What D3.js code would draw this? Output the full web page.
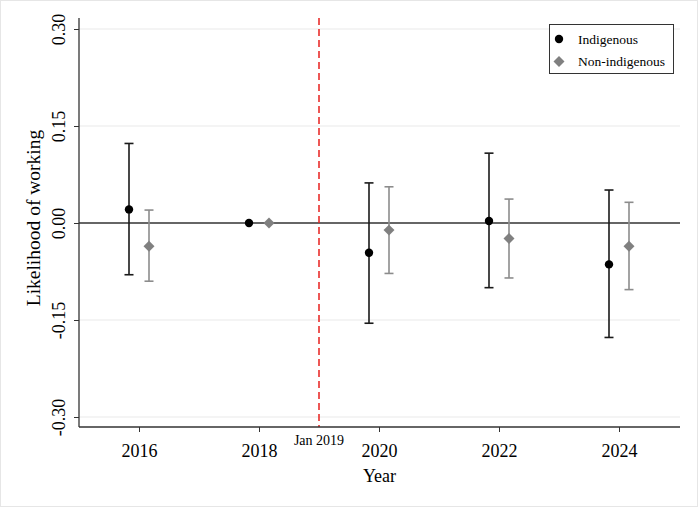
<!DOCTYPE html>
<html><head><meta charset="utf-8">
<script src="https://cdn.jsdelivr.net/npm/d3@7"></script>
<style>body{margin:0;background:#fff}svg{display:block}text{font-family:"Liberation Serif","Times New Roman",serif;fill:#000}</style>
</head><body>
<script>
const years = [2016, 2018, 2020, 2022, 2024];
const indEst = [0.021, 0.0, -0.046, 0.003, -0.064];
const indLo = [-0.080, 0.0, -0.155, -0.100, -0.177];
const indHi = [0.123, 0.0, 0.062, 0.108, 0.051];
const nonEst = [-0.036, 0.0, -0.011, -0.024, -0.036];
const nonLo = [-0.090, 0.0, -0.078, -0.085, -0.103];
const nonHi = [0.020, 0.0, 0.056, 0.037, 0.032];
const yTicks = [-0.30, -0.15, 0.00, 0.15, 0.30];
const eventYear = 2019;
const eventLabel = "Jan 2019";

(function(){
const W = 698, H = 507;
const svg = d3.select("body").append("svg").attr("width", W).attr("height", H)
  .attr("font-family", '"Liberation Serif",serif');
svg.append("rect").attr("x",0.5).attr("y",0.5).attr("width",W-1).attr("height",H-1).attr("fill","#fff").attr("stroke","#e6e6e6");

const pL = 79, pR = 680, pT = 18, pB = 427;
const x = d3.scaleLinear().domain([2016, 2024]).range([139, 619]);
const y = d3.scaleLinear().domain([-0.30, 0.30]).range([417, 29]);

svg.append("g").selectAll("line").data(yTicks.filter(d => d !== 0)).join("line")
  .attr("x1", pL).attr("x2", pR).attr("y1", d => y(d)).attr("y2", d => y(d))
  .attr("stroke", "#eaeaea").attr("stroke-width", 1.2);
svg.append("line").attr("x1", pL).attr("x2", pR).attr("y1", y(0)).attr("y2", y(0))
  .attr("stroke", "#333").attr("stroke-width", 1.3);

svg.append("line").attr("x1", x(eventYear)).attr("x2", x(eventYear)).attr("y1", pT).attr("y2", pB)
  .attr("stroke", "#e8201e").attr("stroke-width", 1.5).attr("stroke-dasharray", "7,4");

const fmt = d => d.toFixed(2);
const yAxis = d3.axisLeft(y).tickValues(yTicks).tickSize(5).tickFormat(fmt);
const gy = svg.append("g").attr("transform", `translate(${pL},0)`).call(yAxis)
  .attr("font-family", '"Liberation Serif",serif');
gy.select(".domain").attr("d", `M0,${pT}V${pB}`).attr("stroke", "#333").attr("stroke-width", 1.3);
gy.selectAll(".tick line").attr("stroke", "#333");
gy.selectAll(".tick text").attr("transform", "rotate(-90)").attr("x", 0).attr("y", -14).attr("dy", 0)
  .attr("text-anchor", "middle").style("font-size", "18px");

const xAxis = d3.axisBottom(x).tickValues(years).tickSize(5).tickFormat(d3.format("d"));
const gx = svg.append("g").attr("transform", `translate(0,${pB})`).call(xAxis)
  .attr("font-family", '"Liberation Serif",serif');
gx.select(".domain").attr("d", `M${pL},0H${pR}`).attr("stroke", "#333").attr("stroke-width", 1.3);
gx.selectAll(".tick line").attr("stroke", "#333");
gx.selectAll(".tick text").attr("y", 30).attr("dy", 0).style("font-size", "18px");

svg.append("text").attr("x", x(eventYear)).attr("y", 445).attr("text-anchor", "middle")
  .style("font-size", "14px").text(eventLabel);

svg.append("text").attr("x", 379.5).attr("y", 482).attr("text-anchor", "middle")
  .style("font-size", "18px").text("Year");
svg.append("text").attr("transform", `translate(40,218) rotate(-90)`).attr("text-anchor", "middle")
  .style("font-size", "19.5px").text("Likelihood of working");

const off = 10, cap = 4.5;
function drawSeries(est, lo, hi, dx, barColor, isDiamond, markColor) {
  const g = svg.append("g");
  const data = years.map((yr, i) => ({yr, e: est[i], l: lo[i], h: hi[i]}));
  const eb = data.filter(d => d.l !== d.h);
  g.append("g").selectAll("line").data(eb).join("line").attr("x1", d => x(d.yr) + dx).attr("x2", d => x(d.yr) + dx)
    .attr("y1", d => y(d.l)).attr("y2", d => y(d.h)).attr("stroke", barColor).attr("stroke-width", 1.6);
  ["l", "h"].forEach(k => {
    g.append("g").selectAll("line").data(eb).join("line").attr("x1", d => x(d.yr) + dx - cap).attr("x2", d => x(d.yr) + dx + cap)
      .attr("y1", d => y(d[k])).attr("y2", d => y(d[k])).attr("stroke", barColor).attr("stroke-width", 1.6);
  });
  if (isDiamond) {
    g.append("g").selectAll("path").data(data).join("path")
      .attr("d", d3.symbol(d3.symbolSquare, 60))
      .attr("transform", d => `translate(${x(d.yr) + dx},${y(d.e)}) rotate(45)`).attr("fill", markColor);
  } else {
    g.append("g").selectAll("circle").data(data).join("circle").attr("cx", d => x(d.yr) + dx).attr("cy", d => y(d.e))
      .attr("r", 4.2).attr("fill", markColor);
  }
}
drawSeries(indEst, indLo, indHi, -off, "#1a1a1a", false, "#000");
drawSeries(nonEst, nonLo, nonHi, off, "#8c8c8c", true, "#808080");

const lg = svg.append("g");
lg.append("rect").attr("x", 549.5).attr("y", 24.5).attr("width", 124).attr("height", 49).attr("fill", "#fff").attr("stroke", "#333");
lg.append("circle").attr("cx", 559).attr("cy", 39).attr("r", 4.2).attr("fill", "#000");
lg.append("path").attr("d", d3.symbol(d3.symbolSquare, 60)).attr("transform", "translate(559,61.5) rotate(45)").attr("fill", "#808080");
lg.append("text").attr("x", 578).attr("y", 43.5).style("font-size", "13.5px").text("Indigenous");
lg.append("text").attr("x", 578).attr("y", 66).style("font-size", "13.5px").text("Non-indigenous");
})();
</script>
</body></html>
